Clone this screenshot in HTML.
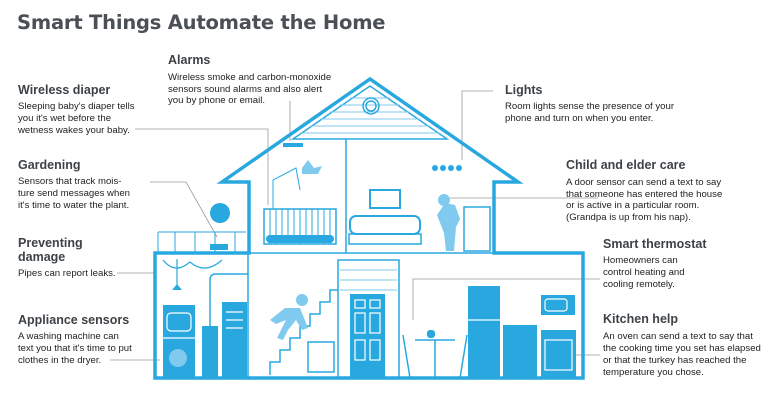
<!DOCTYPE html>
<html><head><meta charset="utf-8"><style>
html,body{margin:0;padding:0;background:#fff;width:780px;height:405px;overflow:hidden}
svg{display:block}
.t{font-family:"Liberation Sans",sans-serif;font-weight:bold;font-size:12.5px;fill:#3d4247}
.b{font-family:"Liberation Sans",sans-serif;font-size:9.6px;fill:#222}
.h{font-family:"DejaVu Sans","Liberation Sans",sans-serif;font-weight:bold;font-size:19.5px;fill:#4b5056}
</style></head><body>
<svg width="780" height="405" viewBox="0 0 780 405">
<text class="h" x="17" y="29" letter-spacing="-0.2">Smart Things Automate the Home</text>

<g stroke="#9a9a9a" stroke-width="0.8" fill="none">
<path d="M135 129H268V205"/>
<path d="M290 101V141"/>
<path d="M493 91H462V160"/>
<path d="M150 182H186L217 237"/>
<path d="M450 198H598"/>
<path d="M117 273H155"/>
<path d="M110 360H160"/>
<path d="M413 320V279H600"/>
<path d="M575 355H600"/>
</g>

<g stroke="#29a8e0" fill="none">
<path d="M222 182L370 79L518 182H494V253H583V378H155V253H249V182Z" stroke-width="3.5" stroke-linejoin="miter"/>
<path d="M293 139L370 86L447 139Z" stroke-width="1.5"/>
<g stroke-width="1" stroke="#7fcaee">
<path d="M330 112H410M320 119H420M310 126H430M300 133H440M350 98H390M340 105H400"/>
</g>
<circle cx="371" cy="106" r="8" stroke-width="1.5"/>
<circle cx="371" cy="106" r="5" stroke-width="1.5"/>
<path d="M346 139V253M248 253V378M155 253H583" stroke-width="1.5"/>
<path d="M270 375V362H280V350H290V338H300V326H310V314H320V302H330V290H338" stroke-width="1.5"/>
<rect x="338" y="260" width="61" height="118" stroke-width="1.5"/>
<path d="M340 270H397M340 280H397M340 290H397" stroke="#7fcaee" stroke-width="1"/>
<rect x="264" y="209" width="72" height="35" stroke-width="1.5"/>
<path d="M270 209V244M276 209V244M282 209V244M288 209V244M294 209V244M300 209V244M306 209V244M312 209V244M318 209V244M324 209V244M330 209V244" stroke-width="1"/>
<path d="M273 209V180L296 168L300 190" stroke-width="1"/>
<path d="M158 232H246M158 232V252M175 232V252M195 232V252M215 232V252M235 232V252" stroke-width="1"/>
<rect x="350" y="216" width="70" height="18" rx="6" stroke-width="2"/>
<rect x="349" y="234" width="72" height="10" stroke-width="1.5"/>
<rect x="370" y="190" width="30" height="18" stroke-width="2"/>
<rect x="464" y="207" width="26" height="44" stroke-width="1.5"/>
<path d="M415 340H455M435 340V378M403 335L410 378M467 335L460 378" stroke-width="1.5"/>
<path d="M177 259V290M163 260Q175 275 190 262Q205 275 222 260" stroke-width="1.2"/>
<path d="M210 378V280Q210 274 216 274H248" stroke-width="1.5"/>
<rect x="308" y="342" width="26" height="30" stroke-width="1.5"/>
</g>

<g fill="#29a8e0">
<rect x="283" y="143" width="20" height="4"/>
<rect x="266" y="235" width="68" height="8" rx="4"/>
<rect x="163" y="305" width="32" height="73"/>
<rect x="202" y="326" width="16" height="52"/>
<rect x="222" y="302" width="25" height="76"/>
<rect x="350" y="294" width="35" height="84"/>
<rect x="468" y="286" width="32" height="92"/>
<rect x="503" y="325" width="34" height="53"/>
<rect x="541" y="330" width="35" height="48"/>
<rect x="541" y="295" width="34" height="20"/>
<rect x="427" y="330" width="8" height="8" rx="3"/>
<circle cx="220" cy="213" r="10"/>
<rect x="210" y="244" width="18" height="6"/>
<path d="M172 290l5-6 5 6z"/>
</g>
<g stroke="#fff" stroke-width="1.2" fill="none">
<rect x="167" y="313" width="24" height="18" rx="4"/>
<path d="M163 338H195M468 320H500M226 312H243M226 320H243M226 328H243"/>
<rect x="355" y="300" width="10" height="8"/><rect x="370" y="300" width="10" height="8"/>
<rect x="355" y="313" width="10" height="20"/><rect x="370" y="313" width="10" height="20"/>
<rect x="355" y="340" width="10" height="20"/><rect x="370" y="340" width="10" height="20"/>
<rect x="545" y="299" width="22" height="12" rx="3"/>
<rect x="545" y="340" width="27" height="30"/>
</g>
<g fill="#7fcaee">
<path d="M437 215l8-12 10 2 5 14-4 8-2 24h-8l-2-18z"/>
<circle cx="444" cy="200" r="6"/>
<path d="M270 320l15-12 15 0 8 20-6 2-6-10-8 10-5 10-6-2 6-12 3-6-10 4z"/>
<circle cx="302" cy="300" r="6"/>
<path d="M302 168l6-8 6 8 8-2-4 8-16 0z"/>
<circle cx="178" cy="358" r="9"/>
</g>
<g fill="#29a8e0">
<circle cx="435" cy="168" r="3"/><circle cx="443" cy="168" r="3"/><circle cx="451" cy="168" r="3"/><circle cx="459" cy="168" r="3"/>
</g>

<text class="t" x="168" y="64">Alarms</text>
<text class="b"><tspan x="168" y="80">Wireless smoke and carbon-monoxide</tspan><tspan x="168" y="92">sensors sound alarms and also alert</tspan><tspan x="168" y="103">you by phone or email.</tspan></text>

<text class="t" x="18" y="94">Wireless diaper</text>
<text class="b"><tspan x="18" y="109">Sleeping baby's diaper tells</tspan><tspan x="18" y="121">you it's wet before the</tspan><tspan x="18" y="133">wetness wakes your baby.</tspan></text>

<text class="t" x="18" y="169">Gardening</text>
<text class="b"><tspan x="18" y="184">Sensors that track mois-</tspan><tspan x="18" y="196">ture send messages when</tspan><tspan x="18" y="208">it's time to water the plant.</tspan></text>

<text class="t" x="18" y="247">Preventing</text>
<text class="t" x="18" y="261">damage</text>
<text class="b" x="18" y="276">Pipes can report leaks.</text>

<text class="t" x="18" y="324">Appliance sensors</text>
<text class="b"><tspan x="18" y="339">A washing machine can</tspan><tspan x="18" y="351">text you that it's time to put</tspan><tspan x="18" y="363">clothes in the dryer.</tspan></text>

<text class="t" x="505" y="94">Lights</text>
<text class="b"><tspan x="505" y="109">Room lights sense the presence of your</tspan><tspan x="505" y="121">phone and turn on when you enter.</tspan></text>

<text class="t" x="566" y="169">Child and elder care</text>
<text class="b"><tspan x="566" y="185">A door sensor can send a text to say</tspan><tspan x="566" y="197">that someone has entered the house</tspan><tspan x="566" y="208">or is active in a particular room.</tspan><tspan x="566" y="220">(Grandpa is up from his nap).</tspan></text>

<text class="t" x="603" y="248">Smart thermostat</text>
<text class="b"><tspan x="603" y="263">Homeowners can</tspan><tspan x="603" y="275">control heating and</tspan><tspan x="603" y="287">cooling remotely.</tspan></text>

<text class="t" x="603" y="323">Kitchen help</text>
<text class="b"><tspan x="603" y="339">An oven can send a text to say that</tspan><tspan x="603" y="351">the cooking time you set has elapsed</tspan><tspan x="603" y="363">or that the turkey has reached the</tspan><tspan x="603" y="375">temperature you chose.</tspan></text>
</svg>
</body></html>
